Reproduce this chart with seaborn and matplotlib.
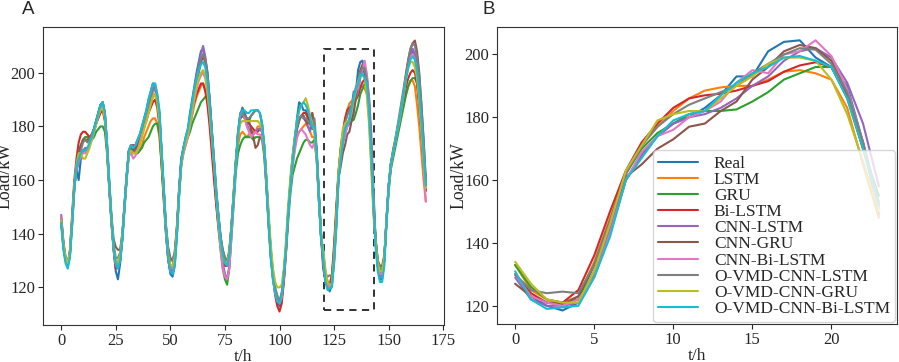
import matplotlib
matplotlib.use("Agg")
import matplotlib.pyplot as plt
import numpy as np
import pandas as pd
import seaborn as sns
from matplotlib.patches import Rectangle

models = ["Real", "LSTM", "GRU", "Bi-LSTM", "CNN-LSTM", "CNN-GRU", "CNN-Bi-LSTM",
          "O-VMD-CNN-LSTM", "O-VMD-CNN-GRU", "O-VMD-CNN-Bi-LSTM"]
hours = list(range(168))

real = [
    145,136,130,128,133,145,158,164,160,168,171,171,171,173,176,179,182,185,188,189,184,172,158,145,
    134,126,123,129,138,150,161,171,173,172,173,175,177,180,183,186,190,193,196,195,190,185,170,156,
    141,131,125,124,128,140,156,168,172,176,179,185,190,195,200,204,208,209,205,200,190,178,166,155,
    147,139,132,129,128,132,142,153,166,177,184,187,185,183,182,184,185,186,186,185,181,172,158,143,
    131,123,118,115,113,117,126,135,148,158,167,175,183,189,188,186,186,184,181,179,181,170,153,139,
    130,123,120,118.5,121,131,143,160,168,174,178,180,183,187,193,193,201,204,204.5,199,196,190,172,149,
    137,128,123,123,130,145,158,166,170,174,179,183,188,193,199,204,207,208,206,202,195,184,170,158]

lstm = [
    144,135,130,129,132,143,156,165,168,172,175,176,176,175,176,178,181,184,186,187,183,172,158,145,
    135,128,129,131,138,149,160,170,172,171,170,170,171,173,176,178,180,182,183,183,181,176,166,154,
    142,133,128,128,131,140,154,165,170,173,176,180,184,188,191,193,195,196,194,190,182,172,162,153,
    145,138,133,130,130,134,143,154,165,173,177,178,177,176,177,178,178,178,180,180,178,170,158,145,
    133,124,119,116,115,116,123,134,147,158,166,172,176,178,179,180,181,180,178,176,176,168,153,139,
    133,125,122,121,123,134,148,162,171,177,182,186,188.5,189.5,190,190,192,194.5,195,194,192,183,165,148,
    136,129,125,126,131,144,157,165,170,174,178,182,186,189,192,195,197,197,195,188,180,170,160,152]

gru = [
    144,135,130,128,132,144,157,165,170,173,175,176,176,175,175,176,178,179,180,180,178,170,157,145,
    135,128,128,130,138,150,161,171,172,170,170,170,171,172,174,175,176,178,180,181,181,177,165,152,
    140,131,127,128,132,142,155,166,172,174,176,178,181,183,185,187,189,190,191,191,187,176,163,151,
    142,134,127,123,121,127,139,151,163,170,173,175,176,176,176,176,175,176,176,176,175,169,157,144,
    132,124,119,116,114,116,123,133,145,155,162,165,168,170,172,174,175,175,174,174,175,168,153,139,
    133,126,122,121,122,133,147,162,170,175,178,181,182,182,182.5,185,188,192,194,196,196,186,170,155,
    138,130,126,127,131,144,156,164,168,172,176,180,184,188,192,195,197,198,198,196,188,178,166,156]

bilstm = [
    145,136,130,128,134,147,160,168,174,177,178,178,177,176,177,179,181,183,185,186,182,171,157,144,
    134,127,128,131,139,151,162,171,173,173,173,174,176,178,180,182,185,187,189,190,187,180,166,153,
    140,130,126,127,131,142,156,167,172,175,178,182,186,189,192,194,196,196,193,188,180,170,160,151,
    143,136,130,128,128,133,143,155,167,177,183,184,183,182,181,180,179,178,178,179,179,173,160,146,
    133,124,117,113,111,114,122,134,148,160,169,176,181,183,184,185,185,183,181,180,180,171,155,140,
    130,124,121,121,125,136,150,163,172,178,183,186,187,187.5,188.5,190,191.5,194.5,196.5,197.5,196,187,170,152,
    137,129,125,126,131,145,158,166,171,175,179,183,187,191,195,198,200,201,200,196,188,178,166,156]

cnn_lstm = [
    147,137,131,129,133,145,158,164,166,169,171,172,172,173,175,178,181,184,187,188,184,172,158,145,
    135,128,127,130,139,151,162,170,171,170,171,173,175,178,181,184,187,190,193,194,190,184,170,156,
    141,131,126,125,129,140,155,167,171,175,178,183,189,194,199,203,207,210,206,200,190,178,166,154,
    144,136,129,125,123,128,140,153,166,178,185,186,184,181,179,178,177,178,179,179,178,172,159,144,
    132,124,119,115,114,117,125,135,148,158,166,173,179,183,184,183,182,180,178,185,178,170,154,139,
    129,122,120,120,121,130,145,160,168,174,178,180,181,183,186,190,193,198,201,202,199,191,178,158,
    137,128,124,125,130,146,158,166,170,174,179,183,188,193,199,204,207,209,207,203,196,185,172,159]

cnn_gru = [
    146,137,131,129,133,145,157,165,170,173,175,175,175,175,177,179,182,185,188,189,185,174,160,147,
    138,135,134,134,140,150,161,170,172,171,172,173,175,177,180,183,186,189,191,192,189,183,169,156,
    143,135,131,130,133,142,156,167,171,174,177,181,186,191,196,200,204,206,204,198,189,178,167,156,
    147,139,134,131,130,133,143,155,167,177,183,185,184,183,182,179,176,172,173,176,177,172,160,146,
    134,125,119,116,114,117,125,135,148,159,168,174,179,182,184,184,182,181,183,185,180,170,155,140,
    127,123,121,120.5,123,133,147,161,165,170,173,177,178,182,185,192,196,201,203,202,198,188,172,151,
    138,130,128,128,132,145,157,165,170,174,178,183,188,194,200,205,209,211,212,208,200,188,175,160]

cnn_bilstm = [
    146,136,131,129,133,144,157,164,167,169,170,170,171,173,175,178,181,184,187,189,185,173,159,146,
    135,129,128,131,139,150,161,169,170,168,169,171,174,177,180,183,186,189,193,196,192,185,170,156,
    141,131,127,127,131,141,155,166,170,173,176,180,185,190,194,197,199,200,198,193,185,176,166,155,
    144,134,127,124,123,127,139,152,165,177,184,185,183,180,178,176,177,178,177,177,176,171,158,144,
    132,123,118,115,114,116,124,134,147,157,165,171,176,178,179,178,177,175,173,172,174,169,154,140,
    130,123,121,120,122,129,143,160,169,174,176,180,182,185,191,195,194,200,201,204.5,199.5,189,172,151,
    136,128,125,125,130,145,157,165,170,174,178,182,187,192,198,203,206,207,205,200,190,178,165,152]

ovmd_lstm = [
    145,136,131,129,133,145,158,165,168,171,174,175,174,175,177,179,182,185,188,189,185,173,159,146,
    136,131,131,133,140,151,162,171,173,172,173,175,177,179,182,185,188,191,194,195,191,184,170,156,
    143,134,130,130,133,143,157,168,172,175,178,182,187,192,197,201,205,207,205,199,190,179,168,157,
    147,139,134,131,130,133,143,155,167,178,184,185,184,183,183,184,185,186,186,185,181,173,160,146,
    134,126,120,117,115,118,126,136,149,159,168,175,180,183,184,183,183,182,181,181,183,172,156,141,
    130,125,124,124.5,124,133,147,162,171,177,181,184,186,188,190,194,197,200,202,201.5,197,188,172,153,
    138,130,127,127,131,145,158,166,171,175,180,185,190,195,200,205,209,211,210,206,199,188,175,160]

ovmd_gru = [
    145,136,131,129,133,145,158,166,170,170,168,168,170,172,175,178,181,184,186,187,183,172,158,145,
    135,129,130,132,139,150,161,170,171,170,170,171,173,176,179,182,185,188,191,192,189,182,168,155,
    142,132,128,128,131,141,155,166,171,174,177,181,186,191,195,198,200,201,199,193,185,176,166,155,
    145,137,131,129,129,133,143,155,167,176,181,182,182,182,182,182,182,182,182,181,179,173,161,148,
    136,127,122,120,120,121,127,138,151,161,169,176,182,186,188,189,190.5,188,184,181,178,169,154,140,
    134,127,122,121,121,131,146,163,171,179,181,182,182,186,190,193,197,199,199,198,192,181,166,150,
    137,129,126,126,131,145,157,166,170,174,179,183,188,193,198,202,204,204,202,198,190,179,167,157]

ovmd_bilstm = [
    144,134,129,127,131,143,157,165,168,170,171,171,172,174,176,179,182,185,188,189,185,173,159,146,
    135,129,127,130,138,150,161,171,173,172,173,175,177,180,183,186,190,193,196,196,192,186,171,157,
    142,131,126,125,128,139,154,167,172,176,179,184,189,194,198,201,203,204,202,197,188,178,167,155,
    146,138,132,129,128,132,142,154,166,177,184,186,186,185,185,186,186,186,186,185,181,173,159,144,
    131,123,118,115,114,117,125,135,148,158,167,175,182,186,188,189,188,186,183,180,180,170,154,139,
    131,122,119,119.5,120,129,142,160,167,174,179,181,182,187,191,194,196,199,199.5,198,196,186,170,152,
    135,126,122,122,128,144,157,166,170,174,179,183,188,193,198,202,205,206,205,201,193,182,170,158]

values = [real, lstm, gru, bilstm, cnn_lstm, cnn_gru, cnn_bilstm, ovmd_lstm, ovmd_gru, ovmd_bilstm]

zoom_start, zoom_len = 120, 24
box_x = (120.5, 143.2)
box_y = (111.7, 208.9)

frames = []
for name, vals in zip(models, values):
    assert len(vals) == 168, (name, len(vals))
    frames.append(pd.DataFrame({"t": hours, "Load": vals, "Model": name}))
df = pd.concat(frames, ignore_index=True)
dfb = df[(df["t"] >= zoom_start) & (df["t"] < zoom_start + zoom_len)].copy()
dfb["t"] = dfb["t"] - zoom_start

sns.set_style("ticks")
plt.rcParams["font.family"] = ["Liberation Serif", "DejaVu Serif"]
plt.rcParams["xtick.major.size"] = 3.5
plt.rcParams["ytick.major.size"] = 3.5

pal = sns.color_palette("tab10", 10)

fig = plt.figure(figsize=(8.99, 3.62), dpi=100)
axA = fig.add_axes([0.0478, 0.102, 0.4461, 0.8234])
axB = fig.add_axes([0.5528, 0.105, 0.4450, 0.8210])

sns.lineplot(data=df, x="t", y="Load", hue="Model", hue_order=models, palette=pal,
             ax=axA, legend=False, linewidth=1.5)
axA.add_patch(Rectangle((box_x[0], box_y[0]), box_x[1] - box_x[0], box_y[1] - box_y[0],
                        fill=False, edgecolor="#222222", linestyle=(0, (4, 3)), linewidth=1.3))

sns.lineplot(data=dfb, x="t", y="Load", hue="Model", hue_order=models, palette=pal,
             ax=axB, linewidth=1.5)

for ax in (axA, axB):
    ax.set_xlabel("t/h", fontsize=12.5, labelpad=0)
    ax.set_ylabel("Load/kW", fontsize=12.8, labelpad=-2)
    ax.tick_params(labelsize=12, pad=2)
    for s in ax.spines.values():
        s.set_color("#333333")

axA.set_xticks([0, 25, 50, 75, 100, 125, 150, 175])
axA.set_xlim(-8.35, 175.35)
axB.set_xticks([0, 5, 10, 15, 20])
axA.set_yticks([120, 140, 160, 180, 200])
axB.set_yticks([120, 140, 160, 180, 200])

h, l = axB.get_legend_handles_labels()
axB.legend(h, l, loc="lower right", fontsize=12.5, labelspacing=0.0,
           handlelength=2.3, borderaxespad=0.1, handletextpad=0.9, borderpad=0.3)

fig.text(0.024, 0.974, "A", fontsize=13.5, family="Liberation Sans", va="center")
fig.text(0.537, 0.974, "B", fontsize=13.5, family="Liberation Sans", va="center")

fig.savefig("out.png", dpi=100)
